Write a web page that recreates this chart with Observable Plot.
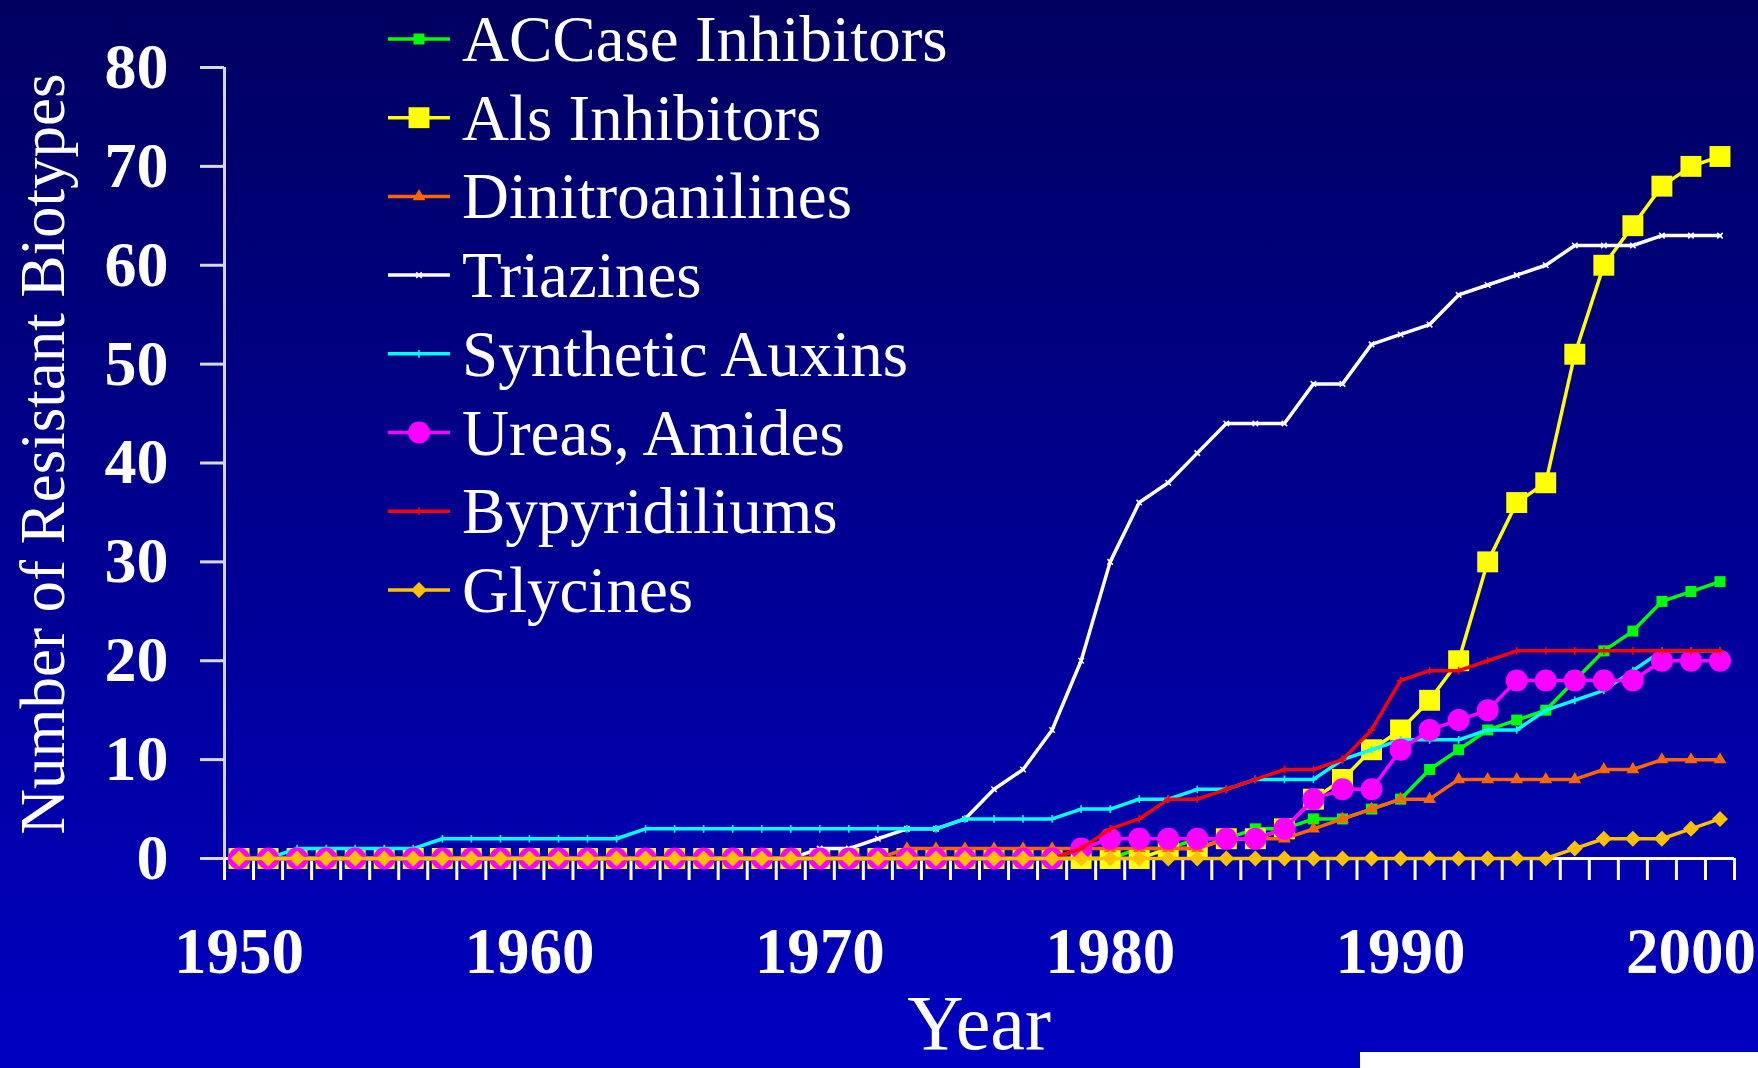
<!DOCTYPE html>
<html><head><meta charset="utf-8">
<script src="https://cdn.jsdelivr.net/npm/d3@7"></script>
<script src="https://cdn.jsdelivr.net/npm/@observablehq/plot@0.6"></script>
<style>
html,body{margin:0;padding:0;}
body{width:1758px;height:1068px;overflow:hidden;position:relative;
  background:linear-gradient(to bottom,#000060 0%,#0000C2 100%);
  font-family:"Liberation Serif","Times New Roman",serif;}
#chart{position:absolute;left:0;top:0;}
#overlay{position:absolute;left:0;top:0;pointer-events:none;}
#whitebox{position:absolute;left:1360px;top:1052px;width:398px;height:16px;background:#fff;}
</style></head><body>
<div id="chart"></div>
<svg id="overlay" width="1758" height="1068"></svg>
<div id="whitebox"></div>
<script>
const years = [1950,1951,1952,1953,1954,1955,1956,1957,1958,1959,
  1960,1961,1962,1963,1964,1965,1966,1967,1968,1969,
  1970,1971,1972,1973,1974,1975,1976,1977,1978,1979,
  1980,1981,1982,1983,1984,1985,1986,1987,1988,1989,
  1990,1991,1992,1993,1994,1995,1996,1997,1998,1999,
  2000,2001];
const labelYears = [1950,1960,1970,1980,1990,2000];
const yTicks = [0,10,20,30,40,50,60,70,80];

const seriesNames = ["ACCase Inhibitors","Als Inhibitors","Dinitroanilines","Triazines",
  "Synthetic Auxins","Ureas, Amides","Bypyridiliums","Glycines"];

const accase   = [0,0,0,0,0,0,0,0,0,0, 0,0,0,0,0,0,0,0,0,0, 0,0,0,0,0,0,0,0,0,0,
  0,1,1,2,2,3,3,4,4,5, 6,9,11,13,14,15,18,21,23,26, 27,28];
const als      = [0,0,0,0,0,0,0,0,0,0, 0,0,0,0,0,0,0,0,0,0, 0,0,0,0,0,0,0,0,0,0,
  0,0,1,1,2,2,3,6,8,11, 13,16,20,30,36,38,51,60,64,68, 70,71];
const dinitro  = [0,0,0,0,0,0,0,0,0,0, 0,0,0,0,0,0,0,0,0,0, 0,0,0,1,1,1,1,1,1,1,
  1,1,1,1,2,2,2,3,4,5, 6,6,8,8,8,8,8,9,9,10, 10,10];
const triazines= [0,0,0,0,0,0,0,0,0,0, 0,0,0,0,0,0,0,0,0,0, 1,1,2,3,3,4,7,9,13,20,
  30,36,38,41,44,44,44,48,48,52, 53,54,57,58,59,60,62,62,62,63, 63,63];
const auxins   = [0,0,1,1,1,1,1,2,2,2, 2,2,2,2,3,3,3,3,3,3, 3,3,3,3,3,4,4,4,4,5,
  5,6,6,7,7,8,8,8,10,11, 12,12,12,13,13,15,16,17,19,21, 21,21];
const ureas    = [0,0,0,0,0,0,0,0,0,0, 0,0,0,0,0,0,0,0,0,0, 0,0,0,0,0,0,0,0,0,1,
  2,2,2,2,2,2,3,6,7,7, 11,13,14,15,18,18,18,18,18,20, 20,20];
const bypyr    = [0,0,0,0,0,0,0,0,0,0, 0,0,0,0,0,0,0,0,0,0, 0,0,0,0,0,0,0,0,0,1,
  3,4,6,6,7,8,9,9,10,13, 18,19,19,20,21,21,21,21,21,21, 21,21];
const glycines = [0,0,0,0,0,0,0,0,0,0, 0,0,0,0,0,0,0,0,0,0, 0,0,0,0,0,0,0,0,0,0,
  0,0,0,0,0,0,0,0,0,0, 0,0,0,0,0,0,1,2,2,2, 3,4];

// styles per series (not data)
const styles = [
  {values: accase,    color:"#00FF00", symbol:"square",   r:6.2,  filled:true},
  {values: als,       color:"#FFFF00", symbol:"square",   r:11.8, filled:true},
  {values: dinitro,   color:"#FF6600", symbol:"triangle", r:4.8,  filled:true},
  {values: triazines, color:"#FFFFFF", symbol:"times",    r:2.6,  filled:false},
  {values: auxins,    color:"#00FFFF", symbol:"plus",     r:2.6,  filled:false},
  {values: ureas,     color:"#FF00FF", symbol:"circle",   r:11,   filled:true},
  {values: bypyr,     color:"#FF0000", symbol:"plus",     r:2.6,  filled:false},
  {values: glycines,  color:"#FFC000", symbol:"diamond2", r:7.2,  filled:true}
];

const table = [];
styles.forEach((s, k) => s.values.forEach((v, i) => table.push({series: seriesNames[k], year: years[i], value: v})));

const boundaries = years.map(y => y - 0.5).concat([years[years.length - 1] + 0.5]);

const marks = [
  Plot.ruleY([0], {stroke: "#FFFFFF", strokeWidth: 3}),
  Plot.ruleX([boundaries[0]], {stroke: "#D8D8D8", strokeWidth: 3}),
  Plot.axisX({ticks: boundaries, tickSize: 22, tickFormat: () => "", stroke: "#FFFFFF", strokeWidth: 3, label: null}),
  Plot.axisX({ticks: labelYears, tickSize: 0, tickPadding: 68, fontSize: 65, fontWeight: "bold", fill: "#FFFFFF", tickFormat: d => String(d), label: null}),
  Plot.axisY({ticks: yTicks, tickSize: 24, tickPadding: 32, fontSize: 64, fontWeight: "bold", stroke: "#D8D8D8", strokeWidth: 3, fill: "#FFFFFF", label: null})
];
styles.forEach((s, k) => {
  const data = table.filter(d => d.series === seriesNames[k]);
  marks.push(Plot.line(data, {x: "year", y: "value", stroke: s.color, strokeWidth: 3.5}));
  marks.push(Plot.dot(data, s.filled
    ? {x: "year", y: "value", symbol: () => s.symbol, r: s.r, fill: s.color, stroke: "none"}
    : {x: "year", y: "value", symbol: () => s.symbol, r: s.r, fill: "none", stroke: s.color, strokeWidth: 1.6}));
});

const chart = Plot.plot({
  width: 1758, height: 1068,
  marginLeft: 224, marginRight: 24, marginTop: 67, marginBottom: 210,
  x: {domain: [boundaries[0], boundaries[boundaries.length - 1]], axis: null},
  y: {domain: [0, 80], axis: null},
  symbol: {type: "identity"},
  style: {background: "transparent", color: "#FFFFFF", fontFamily: "'Liberation Serif', 'Times New Roman', serif", overflow: "visible"},
  marks
});
document.getElementById("chart").appendChild(chart);

// Legend, axis titles (overlay)
const ov = d3.select("#overlay");
const fam = "'Liberation Serif', 'Times New Roman', serif";
const legendTop = 39, legendStep = 78.7;
const symMap = {square: d3.symbolSquare, triangle: d3.symbolTriangle, times: d3.symbolTimes,
  plus: d3.symbolPlus, circle: d3.symbolCircle, diamond2: d3.symbolDiamond2};
styles.forEach((s, k) => {
  const cy = legendTop + k * legendStep;
  const g = ov.append("g");
  g.append("line").attr("x1", 388).attr("x2", 450).attr("y1", cy).attr("y2", cy)
    .attr("stroke", s.color).attr("stroke-width", 3.5);
  g.append("path").attr("transform", `translate(419,${cy})`)
    .attr("d", d3.symbol(symMap[s.symbol], Math.PI * s.r * s.r)())
    .attr("fill", s.filled ? s.color : "none")
    .attr("stroke", s.filled ? "none" : s.color).attr("stroke-width", 1.6);
  g.append("text").attr("x", 462).attr("y", cy + 22)
    .attr("fill", "#FFFFFF").attr("font-family", fam).attr("font-size", 65)
    .text(seriesNames[k]);
});
ov.append("text").attr("transform", "translate(64,454) rotate(-90)")
  .attr("text-anchor", "middle").attr("fill", "#FFFFFF").attr("font-family", fam).attr("font-size", 63)
  .text("Number of Resistant Biotypes");
ov.append("text").attr("x", 979).attr("y", 1049)
  .attr("text-anchor", "middle").attr("fill", "#FFFFFF").attr("font-family", fam).attr("font-size", 78)
  .text("Year");
</script>
</body></html>
